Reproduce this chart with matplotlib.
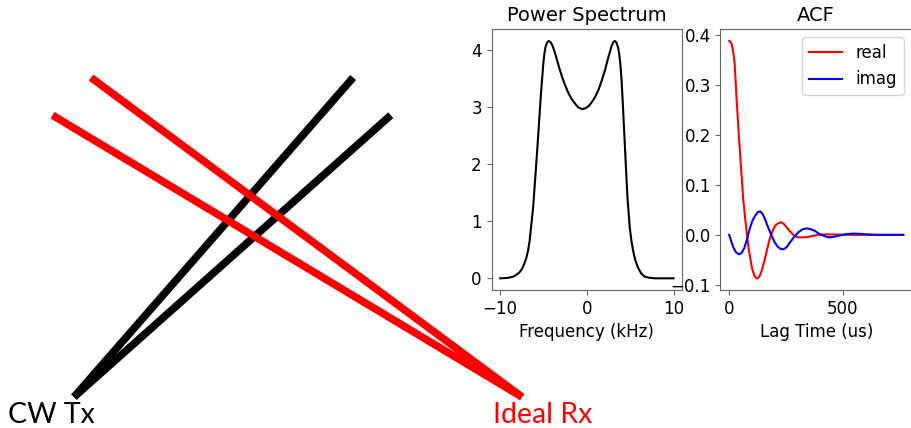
import matplotlib
matplotlib.use("Agg")
import matplotlib.pyplot as plt

# geometry of the sketch (Tx at origin, Rx at x=10)
tx = (0.0, 0.0)
rx = (10.0, 0.0)
tx_targets = [(6.23, 7.13), (7.07, 6.29)]
rx_targets = [(0.38, 7.13), (-0.48, 6.29)]

# power spectrum
freq_khz = [-10.0, -9.5, -9.0, -8.5, -8.2, -7.8, -7.5, -7.24, -7.0, -6.78, -6.6, -6.48,
            -6.2, -5.98, -5.76, -5.53, -5.3, -5.03, -4.9, -4.77, -4.6, -4.4, -4.2, -4.0,
            -3.7, -3.43, -3.15, -2.86, -2.5, -2.1, -1.7, -1.34, -1.0, -0.6, -0.2, 0.2,
            0.57, 0.95, 1.33, 1.7, 2.09, 2.4, 2.66, 2.85, 3.05, 3.23, 3.42, 3.61, 3.75,
            3.88, 4.0, 4.11, 4.3, 4.49, 4.68, 4.95, 5.15, 5.33, 5.6, 5.9, 6.25, 6.66,
            7.2, 7.8, 10.0]
power = [0.0, 0.003, 0.01, 0.03, 0.055, 0.1, 0.16, 0.25, 0.35, 0.49, 0.66, 0.84,
         1.24, 1.71, 2.18, 2.7, 3.23, 3.75, 3.93, 4.05, 4.12, 4.15, 4.13, 4.08,
         3.95, 3.81, 3.66, 3.52, 3.37, 3.23, 3.12, 3.05, 2.99, 2.96, 2.97, 3.01,
         3.08, 3.17, 3.29, 3.45, 3.64, 3.82, 3.96, 4.06, 4.13, 4.15, 4.12, 4.03, 3.9,
         3.72, 3.47, 3.17, 2.59, 2.0, 1.42, 0.89, 0.65, 0.49, 0.31, 0.19, 0.09, 0.03,
         0.01, 0.0, 0.0]

# ACF
lag_real = [0, 6, 12, 18, 24, 28, 32, 41, 51, 61, 73, 85, 100, 107, 114, 120, 126,
            133, 140, 149, 158, 169, 180, 191, 202, 215, 228, 240, 253, 267, 282, 296,
            311, 330, 348, 370, 392, 430, 480, 550, 766]
acf_real = [0.388, 0.386, 0.38, 0.365, 0.343, 0.31, 0.276, 0.209, 0.142, 0.075, 0.021,
            -0.026, -0.066, -0.077, -0.084, -0.087, -0.087, -0.083, -0.076, -0.062,
            -0.046, -0.025, -0.005, 0.008, 0.018, 0.023, 0.025, 0.022, 0.015, 0.007,
            0.0, -0.004, -0.005, -0.005, -0.004, -0.002, 0.0, 0.001, 0.0005, 0.0, 0.0]
lag_imag = [0, 10, 19, 30, 44, 55, 67, 80, 92, 103, 114, 125, 136, 147, 158, 172, 187,
            200, 214, 226, 239, 252, 268, 286, 304, 322, 341, 360, 377, 392, 406, 422,
            439, 460, 480, 510, 544, 575, 600, 650, 766]
acf_imag = [0.0, -0.014, -0.026, -0.035, -0.039, -0.036, -0.026, -0.006, 0.015, 0.029,
            0.038, 0.045, 0.047, 0.042, 0.031, 0.014, -0.002, -0.015, -0.024, -0.028,
            -0.029, -0.025, -0.015, -0.004, 0.005, 0.011, 0.013, 0.011, 0.008, 0.003,
            0.0, -0.003, -0.005, -0.004, -0.002, 0.001, 0.0025, 0.002, 0.001, 0.0, 0.0]

plt.rcParams['font.size'] = 12
plt.rcParams['axes.edgecolor'] = '#666666'
plt.rcParams['xtick.color'] = '#666666'
plt.rcParams['ytick.color'] = '#666666'
plt.rcParams['xtick.labelcolor'] = 'black'
plt.rcParams['ytick.labelcolor'] = 'black'

fig = plt.figure(figsize=(9.12, 4.28), dpi=100)

# sketch of the paths
ax0 = fig.add_axes([0, 0, 1, 1])
ax0.set_xlim(-1.652, 18.705)
ax0.set_ylim(-0.692, 8.862)
ax0.axis('off')
for p in tx_targets:
    ax0.plot([tx[0], p[0]], [tx[1], p[1]], color='black', lw=5.5, solid_capstyle='butt')
for p in rx_targets:
    ax0.plot([rx[0], p[0]], [rx[1], p[1]], color='red', lw=5.5, solid_capstyle='butt')
ax0.text(-1.473, -0.59, "CW Tx", fontsize=20.5, color='black', ha='left', va='baseline',
         family=['Lato', 'DejaVu Sans'])
ax0.text(9.35, -0.59, "Ideal Rx", fontsize=20.5, color='red', ha='left', va='baseline',
         family=['Lato', 'DejaVu Sans'])

# power spectrum
ax1 = fig.add_axes([0.539, 0.322, 0.209, 0.610])
ax1.plot(freq_khz, power, color='black', lw=1.5)
ax1.set_title("Power Spectrum", fontsize=14)
ax1.set_xlabel("Frequency (kHz)")
ax1.set_xticks([-10, 0, 10])
ax1.set_yticks([0, 1, 2, 3, 4])

# ACF
ax2 = fig.add_axes([0.790, 0.322, 0.210, 0.610])
ax2.plot(lag_real, acf_real, color='red', lw=1.5, label='real')
ax2.plot(lag_imag, acf_imag, color='blue', lw=1.5, label='imag')
ax2.set_title("ACF", fontsize=14)
ax2.set_xlabel("Lag Time (us)")
ax2.set_xticks([0, 500])
ax2.legend(loc='upper right')

fig.savefig("out.png", dpi=100)
